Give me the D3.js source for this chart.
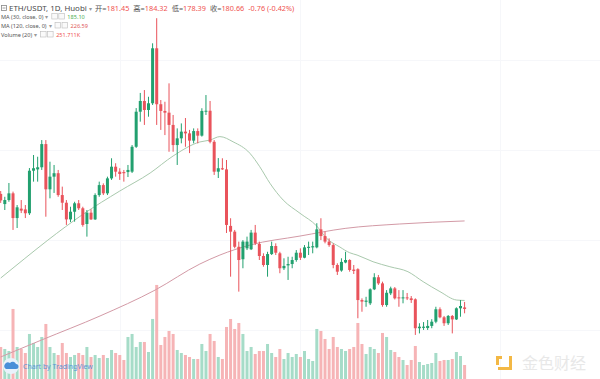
<!DOCTYPE html>
<html><head><meta charset="utf-8">
<script src="https://cdnjs.cloudflare.com/ajax/libs/d3/7.8.5/d3.min.js"></script>
<style>
html,body{margin:0;padding:0;background:#fff;}
svg{display:block;font-family:"Noto Sans","Noto Sans CJK SC",sans-serif;}
</style></head><body>
<svg id="chart" width="600" height="379"></svg>
<script>
// ---- data (ETH/USDT daily, Huobi) ----
const opens = [240.7,235.4,237.5,241.0,228.1,233.0,232.6,230.6,252.8,253.5,
254.6,266.7,243.1,249.7,251.5,240.1,236.1,227.4,231.4,235.8,
233.2,225.0,230.9,227.4,240.1,245.3,241.0,248.8,254.9,252.3,
252.1,252.1,252.3,265.3,283.6,289.2,284.5,288.0,316.7,287.5,
284.0,283.1,276.7,266.2,269.7,273.2,272.3,268.5,273.5,271.1,
283.6,284.1,267.9,252.3,254.1,253.5,224.0,221.0,213.1,206.6,
212.3,211.8,220.5,214.6,208.3,203.6,209.3,213.5,209.7,201.9,
203.4,204.1,206.2,210.0,207.4,212.5,212.8,212.8,222.2,218.7,
215.8,214.0,203.6,200.7,204.9,206.2,201.2,201.4,185.3,184.4,
183.6,190.9,197.2,194.0,182.7,188.8,191.4,186.7,186.4,186.7,
186.2,185.7,170.6,170.8,170.7,171.8,174.0,180.5,176.3,173.2,
177.0,175.2,181.0,181.45];
const highs = [242.2,239.2,246.4,241.9,234.9,237.5,234.9,254.2,261.0,260.1,
268.8,268.8,257.5,255.8,253.2,244.5,237.5,234.0,236.6,237.5,
234.0,232.3,232.7,241.0,247.1,246.2,249.7,259.3,256.7,254.1,
253.2,255.8,266.2,285.5,293.4,294.9,291.4,319.3,332.4,289.7,
288.8,298.4,281.9,274.9,277.5,280.3,274.1,274.9,274.9,285.4,
292.3,289.2,268.8,259.4,259.3,258.4,228.0,221.9,215.8,216.6,
218.4,221.9,224.5,215.8,209.7,210.5,215.8,214.9,210.5,207.1,
207.9,207.9,211.4,212.3,214.0,215.8,215.8,225.4,228.0,221.0,
217.5,214.9,204.5,207.1,210.5,206.6,203.6,201.9,186.2,187.0,
191.4,199.3,198.4,194.9,190.5,192.3,192.1,190.5,190.5,189.0,
187.4,186.2,173.2,173.8,174.9,175.3,181.8,181.5,177.0,177.5,
177.5,181.5,185.3,184.32];
const lows = [236.0,232.3,236.6,221.9,222.9,230.7,228.1,229.7,247.1,247.1,
253.2,228.8,238.4,241.2,239.2,232.3,224.5,226.0,226.2,232.3,
223.6,218.4,227.1,227.1,239.2,240.1,240.1,248.0,249.7,248.0,
247.1,249.5,251.6,264.7,278.4,276.7,281.0,287.1,276.7,274.1,
271.4,262.7,262.7,255.8,267.1,265.3,262.0,267.1,267.1,270.6,
281.9,267.1,250.6,249.0,253.2,220.3,197.5,212.3,189.7,201.9,
211.4,211.4,214.0,206.2,202.7,197.5,208.8,208.8,199.3,201.0,
195.8,201.9,205.3,206.2,207.1,208.8,209.7,212.3,216.6,214.9,
213.1,201.9,198.4,200.1,204.5,200.1,198.9,175.8,179.2,181.8,
182.7,190.5,193.2,181.8,181.8,187.9,185.6,181.8,183.6,185.3,
183.8,167.1,167.9,169.7,169.7,170.6,173.2,175.8,171.8,172.3,
167.9,174.9,176.6,178.39];
const closes = [237.3,237.5,241.0,228.1,233.7,232.0,230.6,252.8,254.1,254.6,
266.7,243.1,249.7,251.5,240.1,236.1,227.4,231.4,235.8,233.2,
224.5,230.9,227.4,240.1,245.3,241.0,248.8,254.9,252.3,251.1,
251.5,253.2,265.3,283.6,289.2,284.5,288.0,316.7,287.5,284.0,
283.1,276.7,266.2,269.7,273.2,272.3,268.5,273.5,271.1,284.0,
284.1,267.9,252.3,254.1,253.5,224.5,221.0,213.1,206.2,215.8,
215.8,220.5,214.9,208.3,203.6,209.3,213.5,210.0,201.9,203.1,
204.1,206.2,210.0,207.4,212.8,213.1,213.4,222.2,218.7,215.8,
214.0,203.6,200.1,205.2,206.2,201.0,200.5,185.3,184.5,185.0,
190.9,197.2,194.0,182.7,189.1,191.4,186.2,186.2,186.7,186.2,
185.3,170.6,171.4,171.4,171.8,174.0,180.5,176.3,173.2,177.0,
175.2,181.0,182.2,180.66];
// volume in thousands
const volumes = [576,540,504,1260,576,540,468,810,648,576,
756,990,576,468,432,648,468,396,432,468,
432,576,396,432,378,432,378,522,468,432,
342,756,810,576,666,666,486,1080,1692,612,
756,864,810,522,468,432,396,360,360,630,
504,810,684,396,360,936,1080,900,1008,810,
504,576,450,504,504,630,468,396,540,360,
468,396,450,396,504,360,324,900,864,720,
540,756,576,540,504,540,576,1008,630,450,
576,540,468,828,756,522,486,396,342,252,
342,594,306,252,270,288,468,324,342,342,
360,486,414,251.711];
// moving averages (bar index, value)
const ma30Idx = [0,5.7,11.5,20,29,36.4,42,48.5,51,53.4,56.6,60.7,63.1,65.6,68.8,72.9,77,79.4,82.6,85,86.8,90.7,94.8,99.2,102.9,107,111.1,113];
const ma30Val = [196.8,206.7,216.6,230.0,242.2,251.6,260.5,267.8,268.8,270.6,267.9,261.9,254.9,246.2,237.5,230.6,223.9,217.5,213.0,210.0,208.8,205.3,202.7,200.1,194.9,189.7,185.3,185.10];
const ma120Idx = [0,10,24.2,37.6,48.5,53.4,60.7,72.9,83.9,97.2,113];
const ma120Val = [155.6,164.5,177.0,190.5,204.1,208.8,214.0,218.7,222.7,225.0,226.59];
// legend
const symbolLabel = "ETH/USDT, 1D, Huobi";
const ohlcLabels = ["开=", "高=", "低=", "收="];
const ohlcValues = ["181.45", "184.32", "178.39", "180.66"];
const changeText = "-0.76 (-0.42%)";
const studyLabels = ["MA (30, close, 0)", "MA (120, close, 0)", "Volume (20)"];
const studyValues = ["185.10", "226.59", "251.711K"];

const W = 600, H = 379;
const UP = "#22a06f", DOWN = "#e9535b";
const UPV = "#a6dcc8", DOWNV = "#f6b4b6";
const svg = d3.select("#chart");
svg.append("rect").attr("width", W).attr("height", H).attr("fill", "#fff");

const x = d3.scaleLinear().domain([0, closes.length - 1]).range([0.7, 464.6]);
const y = d3.scaleLinear().domain([144.1, 341.9]).range([H, 0]);
const yv = d3.scaleLinear().domain([0, 1700]).range([H, 284.5]);

// faint grid
const grid = svg.append("g").attr("stroke", "#f6f7fa").attr("stroke-width", 1);
[120, 300, 500].forEach(g => grid.append("line").attr("x1", g + .5).attr("x2", g + .5).attr("y1", 0).attr("y2", H));
[60, 150, 240, 330].forEach(g => grid.append("line").attr("y1", g + .5).attr("y2", g + .5).attr("x1", 0).attr("x2", W));

const idx = d3.range(closes.length);
const bw = 3;

// volume
svg.append("g").selectAll("rect").data(idx).join("rect")
  .attr("x", i => x(i) - bw / 2)
  .attr("y", i => yv(volumes[i]))
  .attr("width", bw)
  .attr("height", i => H - yv(volumes[i]))
  .attr("fill", i => closes[i] >= opens[i] ? UPV : DOWNV);

// MA lines
const line = d3.line().curve(d3.curveMonotoneX);
svg.append("path")
  .attr("d", line(ma120Idx.map((v, k) => [x(v), y(ma120Val[k])])))
  .attr("fill", "none").attr("stroke", "#d39aa6").attr("stroke-width", 1);
svg.append("path")
  .attr("d", line(ma30Idx.map((v, k) => [x(v), y(ma30Val[k])])))
  .attr("fill", "none").attr("stroke", "#a9c9ad").attr("stroke-width", 1);

// candles
const cg = svg.append("g");
cg.selectAll("line").data(idx).join("line")
  .attr("x1", i => x(i)).attr("x2", i => x(i))
  .attr("y1", i => y(highs[i])).attr("y2", i => y(lows[i]))
  .attr("stroke", i => closes[i] >= opens[i] ? UP : DOWN).attr("stroke-width", 1);
cg.selectAll("rect").data(idx).join("rect")
  .attr("x", i => x(i) - bw / 2)
  .attr("y", i => y(Math.max(opens[i], closes[i])))
  .attr("width", bw)
  .attr("height", i => Math.max(1, Math.abs(y(opens[i]) - y(closes[i]))))
  .attr("fill", i => closes[i] >= opens[i] ? UP : DOWN);

// legend
const lg = svg.append("g");
lg.append("rect").attr("x", 1.5).attr("y", 5.5).attr("width", 5).attr("height", 5).attr("fill", "none").attr("stroke", "#888").attr("stroke-width", .8);
lg.append("line").attr("x1", 2.5).attr("x2", 5.5).attr("y1", 8).attr("y2", 8).attr("stroke", "#888").attr("stroke-width", .8);
const t1 = lg.append("text").attr("x", 9).attr("y", 11).attr("font-size", 7.9).attr("fill", "#4a4a4a");
t1.append("tspan").text(symbolLabel);
t1.append("tspan").attr("font-size", 5.5).attr("dx", 2).attr("fill", "#999").text("▾");
const t1b = lg.append("text").attr("x", 95).attr("y", 11).attr("font-size", 7.3);
ohlcLabels.forEach((l, k) => {
  t1b.append("tspan").attr("fill", "#555").attr("dx", k ? 4 : 0).text(l);
  t1b.append("tspan").attr("fill", "#ef5350").text(ohlcValues[k]);
});
t1b.append("tspan").attr("fill", "#ef5350").attr("dx", 4).text(changeText);

const studyY = [19, 28, 37];
const studyColors = ["#4caf50", "#e05a5a", "#ef5350"];
studyLabels.forEach((l, k) => {
  const t = lg.append("text").attr("x", 1).attr("y", studyY[k]).attr("font-size", 5.6).attr("fill", "#555");
  t.append("tspan").text(l);
  t.append("tspan").attr("dx", 2).attr("fill", "#999").text("▾");
  const bb = t.node().getComputedTextLength();
  const bx = 1 + bb + 5;
  [0, 7].forEach(o => lg.append("rect").attr("x", bx + o + .5).attr("y", studyY[k] - 5.5).attr("width", 5.5).attr("height", 5.5)
    .attr("fill", "#fafafa").attr("stroke", "#bbb").attr("stroke-width", .6));
  lg.append("text").attr("x", bx + 16).attr("y", studyY[k]).attr("font-size", 5.6).attr("fill", studyColors[k]).text(studyValues[k]);
});

// TradingView badge
const tv = svg.append("g");
tv.append("circle").attr("cx", 11).attr("cy", 366).attr("r", 8).attr("fill", "#e9f2fb");
tv.append("path").attr("d", "M6,369 h10 a2.5,2.5 0 0 0 0,-5 a3.5,3.5 0 0 0 -6,-1 a2.5,2.5 0 0 0 -4,6z").attr("fill", "#4a8fd8");
tv.append("text").attr("x", 23).attr("y", 369).attr("font-size", 7).attr("fill", "#5b95d6").text("Chart by TradingView");

// watermark
const wm = svg.append("g");
wm.append("path").attr("d", "M496,356 h6 v3 h-3 v6 h-3z M505,356 h7 v14 h-14 v-3 h11 v-11z").attr("fill", "#f3b845");
wm.append("text").attr("x", 522).attr("y", 369).attr("font-size", 16).attr("fill", "#e8e8e8")
  .attr("font-family", "Noto Sans CJK SC").text("金色财经");
</script>
</body></html>
